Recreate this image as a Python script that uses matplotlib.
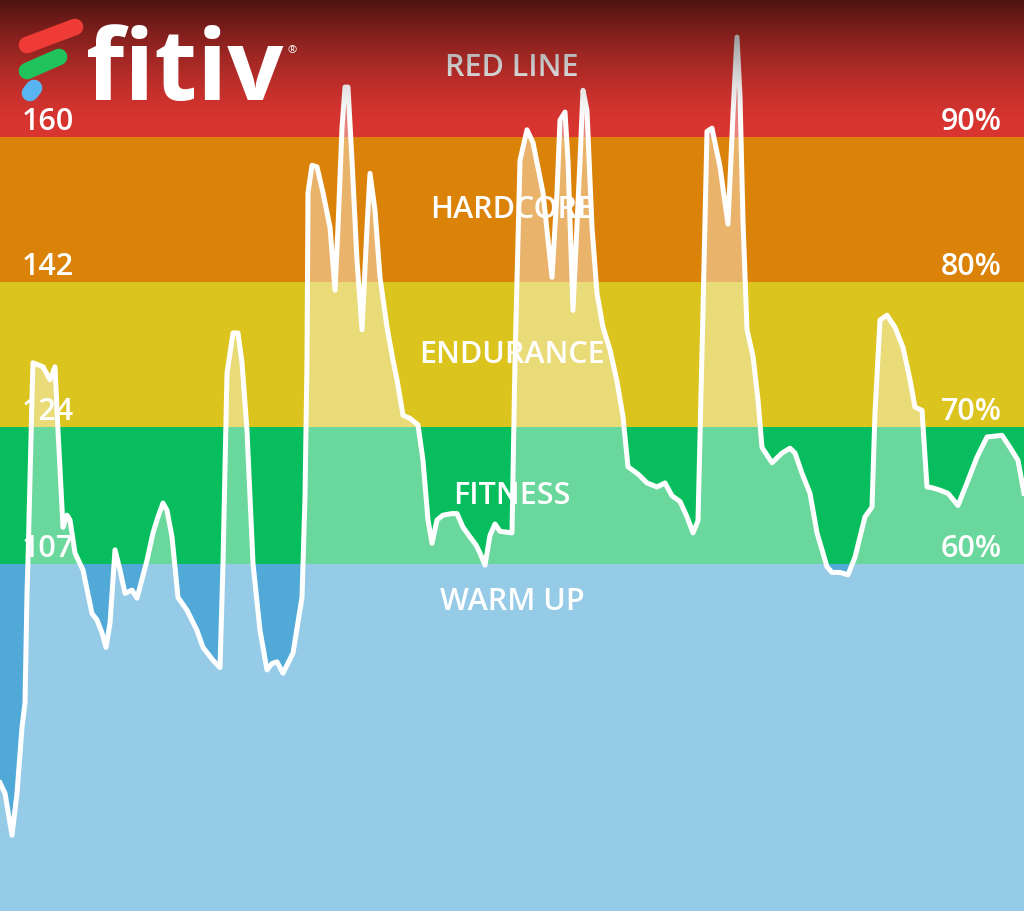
import numpy as np
import matplotlib
matplotlib.use("Agg")
import matplotlib.pyplot as plt

# heart-rate zone boundaries (bpm) and labels
zone_names = ["WARM UP", "FITNESS", "ENDURANCE", "HARDCORE", "RED LINE"]
zone_edges = [64, 107, 124, 142, 160, 177]
zone_colors = ["#51a9d8", "#08bd5d", "#dcc41f", "#db8209", "#d93530"]
zone_label_hr = [102.3, 115.5, 133.0, 150.9, 168.6]
tick_bpm = [107, 124, 142, 160]
tick_pct = ["60%", "70%", "80%", "90%"]

# workout trace: time (s) and heart rate (bpm)
time_s = [0, 10, 24, 34, 44, 50, 54, 56, 64, 66, 86, 100, 110, 116, 126, 134, 140, 150,
          166, 184, 194, 204, 212, 220, 230, 240, 250, 264, 274, 280, 294, 306, 316, 326,
          334, 344, 356, 374, 394, 406, 426, 440, 446, 454, 466, 476, 484, 494, 506, 520,
          534, 544, 554, 566, 586, 604, 610, 614, 616, 624, 634, 646, 660, 670, 676, 684,
          690, 696, 704, 714, 724, 734, 740, 750, 760, 774, 786, 794, 806, 820, 836, 846,
          856, 864, 874, 886, 904, 914, 926, 940, 952, 960, 970, 980, 990, 1000, 1024,
          1030, 1040, 1054, 1066, 1086, 1104, 1114, 1120, 1130, 1136, 1146, 1160, 1166,
          1174, 1184, 1194, 1206, 1220, 1234, 1246, 1256, 1276, 1294, 1314, 1330, 1344,
          1360, 1374, 1386, 1396, 1406, 1414, 1424, 1440, 1456, 1466, 1474, 1480, 1486,
          1494, 1506, 1516, 1524, 1544, 1564, 1580, 1590, 1604, 1620, 1634, 1654, 1664,
          1680, 1696, 1710, 1730, 1744, 1750, 1760, 1774, 1790, 1806, 1820, 1830, 1844,
          1854, 1864, 1880, 1896, 1916, 1934, 1954, 1974, 2004, 2020, 2036, 2048]
heart_rate = [79.9, 78.6, 73.4, 78.6, 86.8, 89.8, 103.4, 107.5, 127.7, 132.0, 131.5, 129.9,
              131.5, 123.6, 111.6, 113.1, 112.5, 108.4, 106.3, 100.9, 100.1, 98.5, 96.7,
              99.7, 108.8, 106.3, 103.4, 103.8, 102.8, 104.2, 107.5, 110.9, 112.9, 114.6,
              113.7, 110.4, 102.9, 101.3, 98.8, 96.7, 95.1, 94.2, 107.1, 130.7, 135.7,
              135.7, 132.0, 123.6, 107.1, 98.8, 93.9, 94.7, 94.9, 93.5, 96.0, 102.9, 115.3,
              132.3, 153.1, 156.5, 156.3, 153.1, 148.8, 141.0, 148.8, 161.2, 166.2, 166.2,
              157.1, 144.7, 136.1, 148.8, 155.5, 150.9, 142.6, 136.4, 132.3, 129.9, 125.5,
              125.1, 124.3, 119.9, 112.5, 109.6, 112.5, 113.1, 113.3, 113.3, 111.6, 110.4,
              109.4, 108.4, 106.9, 110.6, 112.0, 111.1, 110.9, 132.3, 157.1, 160.9, 159.3,
              153.1, 142.6, 153.1, 162.1, 163.1, 157.1, 138.5, 157.1, 165.8, 163.3, 148.8,
              140.6, 136.4, 133.6, 129.7, 125.3, 119.1, 118.2, 117.1, 116.6, 117.1, 115.5,
              114.8, 112.9, 110.9, 112.4, 138.5, 160.7, 161.1, 156.3, 149.2, 162.9, 172.4,
              165.1, 149.6, 136.1, 132.8, 127.4, 121.5, 119.6, 120.8, 121.4, 120.8, 118.3,
              115.8, 110.9, 106.7, 106.0, 106.0, 105.7, 107.9, 112.9, 114.1, 125.8, 137.3,
              137.9, 136.4, 133.9, 129.9, 126.5, 126.1, 116.6, 116.5, 116.2, 115.8, 114.3,
              117.1, 120.3, 122.8, 123.0, 121.5, 119.9, 115.8]

t = np.array(time_s)
hr = np.array(heart_rate)
ymin, ymax = zone_edges[0], zone_edges[-1]

fig = plt.figure(figsize=(10.24, 9.11), dpi=100)
ax = fig.add_axes([0, 0, 1, 1])
ax.set_xlim(t[0], t[-1])
ax.set_ylim(ymin, ymax)
ax.axis("off")

for lo, hi, c in zip(zone_edges[:-1], zone_edges[1:], zone_colors):
    ax.axhspan(lo, hi, color=c, lw=0, zorder=1)

# lighter area under the curve
ax.fill_between(t, hr, ymin, color="white", alpha=0.4, lw=0, zorder=2)
ax.plot(t, hr, color="white", lw=3.6, solid_joinstyle="round", zorder=3)

font = "Open Sans"
for name, y in zip(zone_names, zone_label_hr):
    ax.text(t[-1] / 2, y, name, ha="center", va="center", color="white",
            fontsize=22, fontweight="semibold", family=font, zorder=4)

# dark fade at the top
top_lo = 161.0
n = 200
fade = np.linspace(0, 1, n) ** 1.5 * 0.64
overlay = np.zeros((n, 1, 4))
overlay[:, 0, 3] = fade
ax.imshow(overlay, extent=[t[0], t[-1], top_lo, ymax], origin="lower",
          aspect="auto", zorder=5, interpolation="bilinear")

for b, p in zip(tick_bpm, tick_pct):
    ax.text(t[0] + 44, b + 0.9, str(b), ha="left", va="baseline", color="white",
            fontsize=22, fontweight="semibold", family=font, zorder=6)
    ax.text(t[-1] - 44, b + 0.9, p, ha="right", va="baseline", color="white",
            fontsize=22, fontweight="semibold", family=font, zorder=6)

# logo
W, H = 1024, 911
def fx(x):
    return x / W
def fy(y):
    return 1 - y / H
fig.add_artist(plt.Line2D([fx(27), fx(75)], [fy(45), fy(27)], color="#ef3b36",
                          lw=12, solid_capstyle="round", zorder=10))
fig.add_artist(plt.Line2D([fx(27), fx(59)], [fy(71), fy(57)], color="#1fc25b",
                          lw=12, solid_capstyle="round", zorder=10))
fig.add_artist(plt.Line2D([fx(30), fx(34)], [fy(93), fy(88)], color="#5ab4f0",
                          lw=12, solid_capstyle="round", zorder=10))
fig.text(fx(86), fy(100), "fitiv", ha="left", va="baseline", color="white",
         fontsize=71, fontweight="bold", family=font, zorder=10)
fig.text(fx(287), fy(53), "®", ha="left", va="baseline", color="white",
         fontsize=8, family=font, zorder=10)

fig.savefig("out.png", dpi=100)
